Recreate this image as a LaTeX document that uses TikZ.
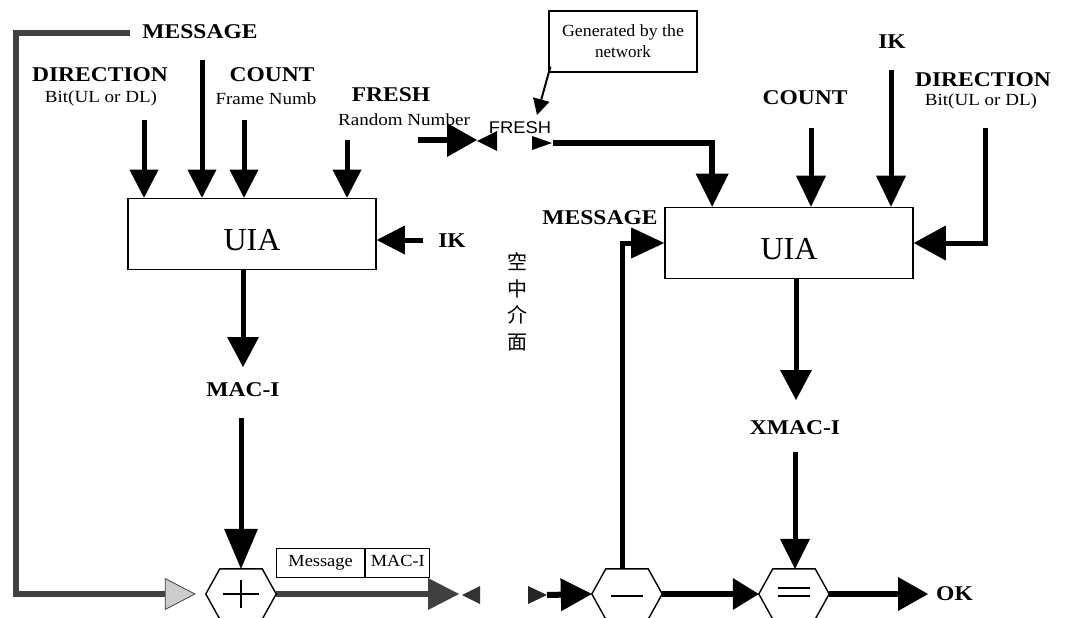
\documentclass[tikz,border=0pt]{standalone}
\usepackage{fontspec}
\setmainfont{Liberation Serif}
\setsansfont{Liberation Sans}
\newfontfamily\cjkfont{Noto Sans CJK TC}
\usetikzlibrary{arrows.meta}

\begin{document}
\begin{tikzpicture}[x=1pt,y=-1pt,
  lbl/.style={font=\fontsize{21}{23}\selectfont\bfseries, inner sep=0pt, xscale=1.12},
  sublbl/.style={font=\fontsize{17}{19}\selectfont, inner sep=0pt, xscale=1.12},
  uiabox/.style={draw, line width=1.6pt, minimum width=248pt, minimum height=71pt,
    inner sep=0pt, font=\fontsize{32}{34}\selectfont, text height=33pt, text depth=0pt},
  hexnode/.style={minimum width=70pt, minimum height=50pt, inner sep=0pt},
  hexline/.style={line width=1.4pt, line join=miter},
  smallbox/.style={draw, line width=1.2pt, inner sep=0pt, minimum height=29pt,
    font=\fontsize{17}{19}\selectfont, text height=12pt, text depth=4pt},
  inarrow/.style={line width=5pt, -{Triangle[length=28pt,width=29pt,line width=0pt]}},
  bigarrow/.style={line width=6pt, -{Triangle[length=31pt,width=33pt,line width=0pt]}},
  greyline/.style={line width=6pt, draw=black!75},
]
\useasboundingbox (0,0) rectangle (1066,618);
\fill[white] (0,0) rectangle (1066,618);

% ---------------- sender side ----------------
\node[uiabox] (uiaL) at (252,234) {UIA};

\node[lbl] (msgL) at (200,32) {MESSAGE};
\node[lbl] (dirL) at (100,75) {DIRECTION};
\node[sublbl] (dirLs) at (101,98) {Bit(UL or DL)};
\node[lbl] (cntL) at (272,75) {COUNT};
\node[sublbl] (cntLs) at (266,99) {Frame Numb};
\node[lbl] (frL) at (391,95) {FRESH};
\node[sublbl] (frLs) at (404,120) {Random Number};
\node[lbl] (ikL) at (452,241) {IK};
\node[lbl] (macL) at (243,390) {MAC-I};

\coordinate (dirA) at (144,120);
\coordinate (msgA) at (202,60);
\coordinate (cntA) at (244,120);
\coordinate (frA)  at (347,140);
\draw[inarrow] (dirA) -- (dirA |- uiaL.north);
\draw[inarrow] (msgA) -- (msgA |- uiaL.north);
\draw[inarrow] (cntA) -- (cntA |- uiaL.north);
\draw[inarrow] (frA)  -- (frA |- uiaL.north);

\coordinate (ikA) at (423,240);
\draw[inarrow] (ikA) -- (ikA -| uiaL.east);

\coordinate (macTip) at (243,367);
\draw[line width=5pt, -{Triangle[length=30pt,width=32pt,line width=0pt]}]
  (macTip |- uiaL.south) -- (macTip);

% combining block and transmitted frame
\node[hexnode] (plus) at (241,594) {};
\coordinate (macS) at (241,418);
\draw[line width=5pt, -{Triangle[length=40pt,width=34pt,line width=0pt]}]
  (macS) -- (macS |- plus.north);

\coordinate (loopStart) at (130,33);
\draw[greyline, shorten >=10pt,
  -{Triangle[length=31pt,width=32pt,line width=0.8pt,fill=gray!40]}]
  (loopStart) -- ++(-114,0) |- (plus.west);

\node[smallbox, minimum width=88pt, anchor=south west] (msgbox) at (276,578)
  {\scalebox{1.08}[1]{Message}};
\node[smallbox, minimum width=64pt, anchor=south west] (macbox) at (msgbox.south east)
  {\scalebox{1.08}[1]{MAC-I}};

\coordinate (sendEnd) at (459,594);
\draw[greyline, -{Triangle[length=31pt,width=32pt,line width=0pt]}] (plus.east) -- (sendEnd);
\fill[black!80] (480,586) -- (462,595) -- (480,604) -- cycle;

% ---------------- air interface ----------------
\node[font=\cjkfont\fontsize{20}{26.5}\selectfont, align=center, inner sep=0pt]
  (air) at (517,302) {空\\中\\介\\面};

\node[draw, line width=1.2pt, minimum width=148pt, minimum height=61pt, align=center,
  inner sep=0pt, font=\fontsize{17}{21}\selectfont] (gen) at (623,41.5)
  {\scalebox{1.05}[1]{Generated by the}\\network};
\node[font=\sffamily\fontsize{17}{19}\selectfont, inner sep=0pt, xscale=1.08] (frM) at (520,128) {FRESH};

\coordinate (genTip) at (537,115);
\draw[line width=2pt, -{Triangle[length=16pt,width=17pt,line width=0pt]}]
  ([xshift=2pt,yshift=6pt]gen.south west) -- (genTip);

\coordinate (fIn) at (418,140);
\coordinate (fMeet) at (477,140);
\draw[line width=6pt, -{Triangle[length=30pt,width=34pt,line width=0pt]}] (fIn) -- (fMeet);
\fill (497,131) -- (477,141) -- (497,151) -- cycle;
\fill (532,136) -- (552,143) -- (532,150) -- cycle;

% ---------------- receiver side ----------------
\node[uiabox] (uiaR) at (789,243) {UIA};

\coordinate (fOut) at (553,143);
\draw[line width=6pt, -{Triangle[length=33pt,width=33pt,line width=0pt]}]
  (fOut) -| ([xshift=48pt]uiaR.north west);

\node[lbl] (cntR) at (805,98) {COUNT};
\node[lbl] (ikR) at (892,42) {IK};
\node[lbl] (dirR) at (983,80) {DIRECTION};
\node[sublbl] (dirRs) at (981,101) {Bit(UL or DL)};
\node[lbl] (msgR) at (600,218) {MESSAGE};
\node[lbl] (xmacL) at (795,428) {XMAC-I};

\coordinate (cntB) at (811,128);
\coordinate (ikB) at (891,70);
\coordinate (dirB) at (985,128);
\draw[line width=5pt, -{Triangle[length=31pt,width=30pt,line width=0pt]}] (cntB) -- (cntB |- uiaR.north);
\draw[line width=5pt, -{Triangle[length=31pt,width=30pt,line width=0pt]}] (ikB) -- (ikB |- uiaR.north);
\draw[line width=5pt, -{Triangle[length=32pt,width=35pt,line width=0pt]}] (dirB) |- (uiaR.east);

\coordinate (xmTip) at (796,400);
\draw[line width=5pt, -{Triangle[length=30pt,width=32pt,line width=0pt]}]
  (xmTip |- uiaR.south) -- (xmTip);

\node[hexnode] (minus) at (627,594) {};
\node[hexnode] (equal) at (794,594) {};

\draw[line width=5pt, -{Triangle[length=33pt,width=31pt,line width=0pt]}]
  ([xshift=-5pt]minus.north) |- (uiaR.west);

\coordinate (xmS) at (795,452);
\draw[line width=5pt, -{Triangle[length=30pt,width=30pt,line width=0pt]}]
  (xmS) -- (xmS |- equal.north);

\coordinate (rxIn) at (547,595);
\fill[black!85] (528,586) -- (547,595) -- (528,604) -- cycle;
\draw[bigarrow] (rxIn) -- (minus.west);

\draw[line width=6pt, -{Triangle[length=26pt,width=32pt,line width=0pt]}] (minus.east) -- (equal.west);

\node[lbl, anchor=west] (ok) at (936,594) {OK};
\draw[line width=6pt, shorten >=8pt, -{Triangle[length=30pt,width=34pt,line width=0pt]}]
  (equal.east) -- (equal.east -| ok.west);

% hexagon outlines and their operator signs
\foreach \h in {plus,minus,equal}{
  \draw[hexline, fill=white]
    (\h.west) -- ([xshift=14pt]\h.north west) -- ([xshift=-14pt]\h.north east)
    -- (\h.east) -- ([xshift=-14pt]\h.south east) -- ([xshift=14pt]\h.south west) -- cycle;
}
\draw[line width=1.6pt] ([xshift=-18pt]plus.center) -- ([xshift=18pt]plus.center);
\draw[line width=1.6pt] ([yshift=-14pt]plus.center) -- ([yshift=14pt]plus.center);
\draw[line width=2.6pt] ([xshift=-16pt,yshift=-2pt]minus.center) -- ([xshift=16pt,yshift=-2pt]minus.center);
\draw[line width=2.4pt] ([xshift=-16pt,yshift=-2pt]equal.center) -- ([xshift=16pt,yshift=-2pt]equal.center);
\draw[line width=2.4pt] ([xshift=-16pt,yshift=6pt]equal.center) -- ([xshift=16pt,yshift=6pt]equal.center);
\end{tikzpicture}
\end{document}
